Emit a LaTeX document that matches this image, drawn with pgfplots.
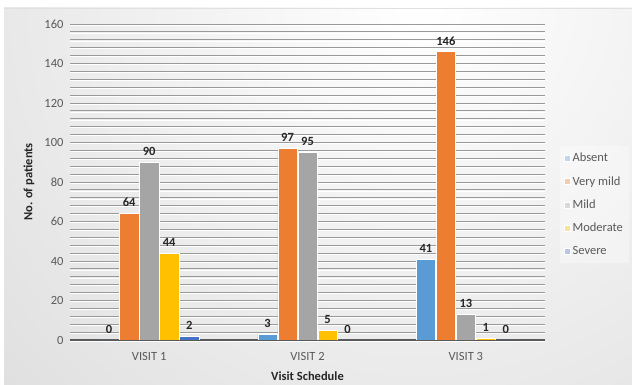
\documentclass[border=0pt]{standalone}
\usepackage{pgfplots}
\pgfplotsset{compat=1.18}
\usepackage{fontspec}
\setmainfont{Carlito}
\definecolor{cAbsent}{HTML}{5B9BD5}
\definecolor{cVmild}{HTML}{ED7D31}
\definecolor{cMild}{HTML}{A5A5A5}
\definecolor{cMod}{HTML}{FFC000}
\definecolor{cSev}{HTML}{4472C4}
\definecolor{txt}{HTML}{595959}
\begin{document}
\begin{tikzpicture}[x=1pt,y=1pt]
\useasboundingbox (0,0) rectangle (632,385);
\fill[white] (0,0) rectangle (632,385);
\begin{scope}
\clip (4,0) rectangle (632,377);
\shade[inner color=white, outer color=black!24] (420,385) circle (1120);
\end{scope}
\draw[black!12, line width=0.6pt] (4,377) -- (632,377);
\begin{axis}[
  at={(70pt,45pt)}, anchor=south west, scale only axis,
  width=475pt, height=316pt,
  ybar=0.5pt, bar width=19.5pt,
  xmin=-0.5, xmax=2.5, ymin=0, ymax=160,
  xtick={0,1,2}, xticklabels={VISIT 1, VISIT 2, VISIT 3},
  ytick={0,20,...,160}, minor y tick num=4,
  ymajorgrids, yminorgrids,
  major grid style={draw=black!40, line width=0.9pt, postaction={draw=white, line width=0.7pt, transform canvas={yshift=-1.1pt}}},
  minor grid style={draw=black!40, line width=0.9pt, postaction={draw=white, line width=0.7pt, transform canvas={yshift=-1.1pt}}},
  axis x line=bottom, axis y line=left,
  y axis line style={draw=none},
  x axis line style={-, draw=black!65, line width=1.3pt},
  tick style={draw=none}, major tick length=0pt, minor tick length=0pt,
  /pgf/number format/assume math mode=true,
  tick label style={font=\fontsize{12.5}{12.5}\selectfont, text=txt},
  xticklabel style={yshift=-9pt},
  yticklabel style={xshift=-3pt},
  every axis y label/.style={at={(axis description cs:-0.0863,0.5)}, rotate=90, anchor=center},
  every axis x label/.style={at={(axis description cs:0.5,-0.114)}, anchor=center},
  label style={font=\bfseries\fontsize{12.5}{12.5}\selectfont, text=black!85},
  ylabel={No. of patients},
  xlabel={Visit Schedule},
  nodes near coords,
  every node near coord/.append style={font=\bfseries\fontsize{12.5}{12.5}\selectfont, text=black!85, yshift=3pt},
  legend style={at={(1,0.429)}, anchor=west, xshift=15pt, fill=white, fill opacity=0.35, text opacity=1, draw=none,
    font=\fontsize{12.5}{12.5}\selectfont, text=txt, row sep=9pt, inner xsep=4pt, inner ysep=5pt},
  legend cell align=left,
  legend image code/.code={\fill[#1] (0pt,-3pt) rectangle (6pt,3pt);},
]
\addplot[fill=cAbsent, draw=white, line width=0.4pt] coordinates {(0,0) (1,3) (2,41)};
\addplot[fill=cVmild, draw=white, line width=0.4pt] coordinates {(0,64) (1,97) (2,146)};
\addplot[fill=cMild, draw=white, line width=0.4pt] coordinates {(0,90) (1,95) (2,13)};
\addplot[fill=cMod, draw=white, line width=0.4pt] coordinates {(0,44) (1,5) (2,1)};
\addplot[fill=cSev, draw=white, line width=0.4pt] coordinates {(0,2) (1,0) (2,0)};
\legend{Absent, Very mild, Mild, Moderate, Severe}
\end{axis}
\end{tikzpicture}
\end{document}
